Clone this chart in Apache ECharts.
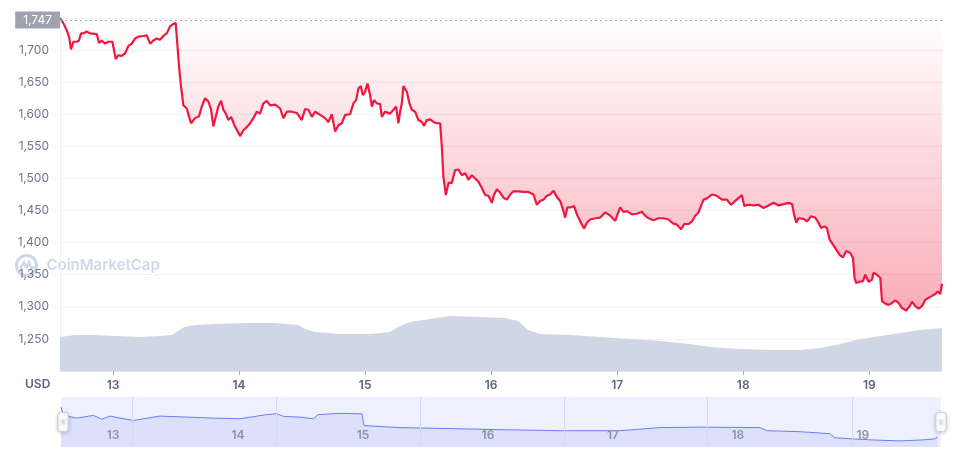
<!DOCTYPE html>
<html>
<head>
<meta charset="utf-8">
<script src="https://cdn.jsdelivr.net/npm/echarts@6/dist/echarts.min.js"></script>
<style>html,body{margin:0;padding:0;background:#fff}#c{width:960px;height:455px}</style>
</head>
<body>
<div id="c"></div>
<script>
// ---- data (hours since 13th 00:00) ----
const openPrice = 1747;
const dayTicks = [0, 24, 48, 72, 96, 120, 144];
const dayLabels = ['13', '14', '15', '16', '17', '18', '19'];
const priceHours = [-10.1,-9.85,-9.47,-8.82,-8.38,-8.0,-7.56,-6.91,-6.48,-6.1,-5.66,-5.01,-4.38,-3.1,-2.67,-2.15,-1.52,-0.9,-0.13,0.25,0.51,1.01,1.66,2.29,2.91,3.56,4.19,4.82,5.77,6.42,7.05,7.68,8.32,8.95,9.58,10.23,10.86,11.49,11.94,12.32,12.57,12.95,13.39,14.04,14.48,14.86,15.62,16.38,16.9,17.52,18.15,18.67,19.1,19.56,20.06,20.57,21.01,21.47,21.96,22.48,23.1,23.75,24.19,24.82,25.47,26.1,26.72,27.37,28.0,28.63,29.28,29.9,30.86,31.81,32.44,33.09,34.04,34.99,35.94,36.57,37.2,37.85,38.48,39.43,40.38,41.01,41.66,42.29,42.91,43.56,44.19,45.14,45.77,46.29,46.72,47.18,47.56,48.0,48.44,48.95,49.28,49.71,50.23,50.86,51.18,51.81,52.76,53.39,53.9,54.34,54.67,54.99,55.3,55.94,56.44,56.9,57.52,58.15,58.8,59.24,59.75,60.38,61.01,61.66,62.29,62.61,62.91,63.37,63.87,64.51,65.14,65.77,66.42,67.05,67.68,68.32,68.95,69.58,70.23,70.86,71.49,72.13,72.57,73.09,73.71,74.34,74.99,75.62,76.25,77.2,78.15,79.1,80.06,80.7,81.33,81.96,82.61,83.24,83.87,84.51,85.14,85.66,86.1,86.53,87.18,87.81,88.32,88.82,89.28,89.71,90.23,90.86,91.81,92.76,93.71,94.67,95.62,96.06,96.57,97.2,97.85,98.8,99.75,100.7,101.33,101.96,102.91,103.87,104.82,105.77,106.61,107.37,108.19,108.76,109.58,110.23,110.86,111.49,111.94,112.44,113.09,114.04,114.99,115.94,116.89,117.66,118.48,119.3,119.75,120.19,121.01,121.96,122.91,123.87,124.82,125.77,126.72,127.68,128.63,129.28,129.71,130.1,130.53,131.49,132.13,132.9,133.71,134.34,134.8,135.43,135.94,136.44,137.09,137.71,138.34,138.99,139.62,140.38,140.9,141.2,141.52,142.15,142.8,143.24,143.87,144.51,144.82,145.47,146.1,146.42,147.05,147.68,148.32,148.95,149.58,150.23,151.05,151.68,152.13,152.76,153.39,154.04,154.67,155.3,155.94,156.57,157.01,157.52,157.85];
const priceUsd = [1750,1747,1742,1731,1721,1701,1713,1713,1715,1726,1726,1729,1726,1725,1711,1715,1710,1713,1713,1710,1686,1692,1691,1695,1706,1710,1718,1721,1722,1723,1710,1715,1718,1716,1722,1726,1737,1741,1742,1744,1674,1643,1614,1609,1596,1586,1594,1597,1612,1625,1620,1607,1581,1596,1612,1621,1607,1601,1591,1596,1583,1573,1566,1575,1580,1586,1594,1604,1601,1617,1621,1614,1615,1609,1594,1604,1604,1602,1591,1608,1607,1596,1604,1599,1594,1588,1600,1573,1583,1586,1599,1600,1617,1622,1640,1644,1630,1635,1648,1630,1612,1622,1617,1616,1596,1604,1601,1607,1612,1586,1604,1617,1644,1635,1617,1607,1604,1591,1588,1582,1591,1592,1588,1586,1586,1549,1503,1474,1493,1493,1513,1514,1505,1508,1498,1505,1500,1495,1485,1474,1473,1462,1475,1483,1478,1470,1467,1475,1480,1480,1479,1479,1475,1459,1465,1467,1473,1475,1481,1471,1465,1452,1439,1455,1455,1457,1444,1436,1428,1422,1431,1436,1438,1439,1447,1442,1434,1444,1455,1448,1449,1444,1445,1448,1442,1438,1435,1438,1438,1436,1430,1428,1421,1429,1429,1433,1442,1447,1457,1467,1469,1475,1473,1467,1467,1459,1465,1471,1474,1457,1459,1458,1459,1454,1458,1462,1458,1460,1462,1460,1443,1431,1438,1437,1433,1441,1439,1431,1423,1425,1423,1405,1397,1389,1381,1377,1387,1384,1376,1345,1337,1339,1340,1350,1339,1342,1353,1350,1345,1309,1305,1303,1306,1310,1306,1298,1294,1301,1308,1301,1297,1301,1311,1314,1317,1320,1324,1320,1336];
// number of leading points that sit above the open price (drawn green)
const aboveOpenCount = 2;
// volume, billions USD
const volumeHours = [-10.1,-7.24,-3.43,0.38,5.14,8.95,11.24,12.38,13.52,15.62,19.43,25.14,30.86,35.24,36.57,38.48,43.24,48.95,52.76,54.29,56.57,60.38,64.19,69.9,74.67,77.14,79.05,81.33,87.05,92.76,98.48,104.19,109.9,113.71,119.43,125.14,130.86,134.67,138.48,142.29,146.1,149.9,153.71,157.85];
const volumeB = [3.4,3.6,3.6,3.5,3.4,3.5,3.6,4.0,4.4,4.6,4.7,4.8,4.8,4.6,4.2,3.9,3.7,3.7,3.9,4.4,4.9,5.2,5.5,5.4,5.3,5.0,4.1,3.7,3.6,3.4,3.2,3.0,2.7,2.4,2.2,2.1,2.1,2.3,2.7,3.2,3.5,3.8,4.1,4.3];
// navigator (slider) overview line
const navHours = [-9.98,-9.54,-6.97,-3.78,-2.17,-0.58,1.34,3.9,9.02,14.15,19.26,24.38,29.51,31.43,32.7,35.9,38.46,39.42,43.6,47.8,48.2,55.1,64.7,74.3,85.8,97.3,105,112.7,124.2,125.6,132,137.7,138.6,145.3,151.1,155.9,157.8,158.4];
const navUsd = [1850,1712,1668,1712,1651,1701,1668,1630,1701,1684,1668,1658,1724,1741,1696,1684,1658,1724,1745,1737,1547,1514,1498,1481,1464,1464,1514,1522,1514,1464,1448,1415,1349,1316,1299,1316,1332,1365];
const navDividers = [3.65, 31.3, 58.9, 86.6, 114.2, 141.9];

const zip = (a, b) => a.map((v, i) => [v, b[i]]);
const fmt = v => String(v).replace(/\B(?=(\d{3})+(?!\d))/g, ',');
const priceData = zip(priceHours, priceUsd);

const chart = echarts.init(document.getElementById('c'), null, {renderer: 'canvas'});
const FONT = 'Inter, "Noto Sans", sans-serif';
const WM = 'rgba(196,205,226,0.8)';

chart.setOption({
  animation: false,
  textStyle: {fontFamily: FONT},
  grid: [
    {left: 60, right: 18, top: 18, bottom: 84},
    {left: 61, right: 19, top: 397, height: 50, show: true, backgroundColor: '#eef0fd', borderWidth: 0}
  ],
  xAxis: [
    {
      type: 'value', gridIndex: 0, min: -10.1, max: 157.85,
      axisLine: {show: true, onZero: false, lineStyle: {color: '#e3e6ec'}},
      axisTick: {show: true, length: 4, lineStyle: {color: '#a3aab8'}, customValues: dayTicks},
      axisLabel: {customValues: dayTicks, formatter: v => dayLabels[dayTicks.indexOf(v)], color: '#58667e', fontSize: 12, fontWeight: 600, margin: 8, fontFamily: FONT},
      splitLine: {show: false}
    },
    {
      type: 'value', gridIndex: 1, min: -10, max: 159, z: 6,
      axisLine: {show: false, onZero: false}, axisTick: {show: false},
      axisLabel: {inside: true, customValues: dayTicks, formatter: v => dayLabels[dayTicks.indexOf(v)], color: '#8c95a8', fontSize: 12, fontWeight: 600, margin: 6, fontFamily: FONT},
      splitLine: {show: false}
    }
  ],
  yAxis: [
    {
      type: 'value', gridIndex: 0, min: 1200, max: 1750, interval: 50,
      axisLine: {show: true, onZero: false, lineStyle: {color: '#eef0f4'}},
      axisTick: {show: false},
      axisLabel: {formatter: v => fmt(v), color: '#6b768b', fontSize: 12, margin: 11, showMinLabel: false, showMaxLabel: false, fontFamily: FONT},
      splitLine: {show: true, lineStyle: {color: '#eff1f5', width: 1}}
    },
    {type: 'value', gridIndex: 0, min: 0, max: 35.3, show: false, splitLine: {show: false}},
    {type: 'value', gridIndex: 1, min: 1200, max: 2010, show: false, splitLine: {show: false}}
  ],
  dataZoom: [{
    type: 'slider', xAxisIndex: 0, start: 0, end: 100,
    left: 61, right: 19, top: 397, height: 50, z: 8,
    backgroundColor: 'rgba(0,0,0,0)', borderColor: 'rgba(0,0,0,0)',
    fillerColor: 'rgba(0,0,0,0)', showDataShadow: false, showDetail: false,
    moveHandleSize: 0, brushSelect: false, zoomLock: true,
    handleIcon: 'path://M3,0 H9 A3,3 0 0 1 12,3 V19 A3,3 0 0 1 9,22 H3 A3,3 0 0 1 0,19 V3 A3,3 0 0 1 3,0 Z M5,8 V14 M7,8 V14',
    handleSize: '38%',
    handleStyle: {color: '#ffffff', borderColor: '#c9ced9', borderWidth: 1, shadowBlur: 4, shadowColor: 'rgba(0,0,0,0.18)', shadowOffsetY: 1}
  }],
  series: [
    {
      type: 'line', xAxisIndex: 0, yAxisIndex: 1, data: zip(volumeHours, volumeB),
      symbol: 'none', lineStyle: {width: 0}, areaStyle: {color: '#cfd6e4', opacity: 1}, z: 1, silent: true
    },
    {
      type: 'line', xAxisIndex: 0, yAxisIndex: 0, data: priceData,
      symbol: 'none', lineStyle: {width: 2.2, color: '#f1173f'}, itemStyle: {color: '#f1173f'}, z: 3, silent: true,
      areaStyle: {
        origin: openPrice, opacity: 1,
        color: new echarts.graphic.LinearGradient(0, 0, 0, 1, [
          {offset: 0, color: 'rgba(241,30,60,0)'},
          {offset: 1, color: 'rgba(241,30,60,0.36)'}
        ])
      },
      markLine: {
        silent: true, symbol: 'none',
        lineStyle: {color: '#a3a9b6', type: [2, 3], width: 1},
        label: {position: 'start', formatter: () => fmt(openPrice), color: '#ffffff', backgroundColor: '#9da3af', padding: [3, 8, 2, 8], fontSize: 12, distance: 0, fontFamily: FONT},
        data: [{yAxis: openPrice}]
      }
    },
    {
      type: 'line', xAxisIndex: 0, yAxisIndex: 0, data: priceData.slice(0, aboveOpenCount),
      symbol: 'none', lineStyle: {width: 2.2, color: '#16c784'}, z: 4, silent: true
    },
    {
      type: 'line', xAxisIndex: 1, yAxisIndex: 2, data: zip(navHours, navUsd),
      symbol: 'none', lineStyle: {width: 1, color: '#6d7ff0'}, areaStyle: {color: '#dde0fb', opacity: 1}, silent: true, z: 2,
      markLine: {
        silent: true, symbol: 'none', label: {show: false},
        lineStyle: {color: '#d3d7f6', type: 'solid', width: 1},
        data: navDividers.map(v => ({xAxis: v}))
      }
    }
  ],
  graphic: [
    {type: 'text', left: 25, top: 378, style: {text: 'USD', fill: '#58667e', font: '600 12px ' + FONT}},
    {
      type: 'group', left: 14, top: 253, z: 10, silent: true,
      children: [
        {type: 'circle', shape: {cx: 11, cy: 11, r: 10}, style: {fill: 'none', stroke: WM, lineWidth: 3}},
        {type: 'polyline', shape: {points: [[5, 14], [8.5, 8], [11, 13], [13.5, 8], [16, 14], [19, 12]]}, style: {fill: 'none', stroke: WM, lineWidth: 2.5}},
        {type: 'text', x: 31, y: 3, style: {text: 'CoinMarketCap', fill: WM, font: '600 15px ' + FONT}}
      ]
    }
  ]
});
</script>
</body>
</html>
